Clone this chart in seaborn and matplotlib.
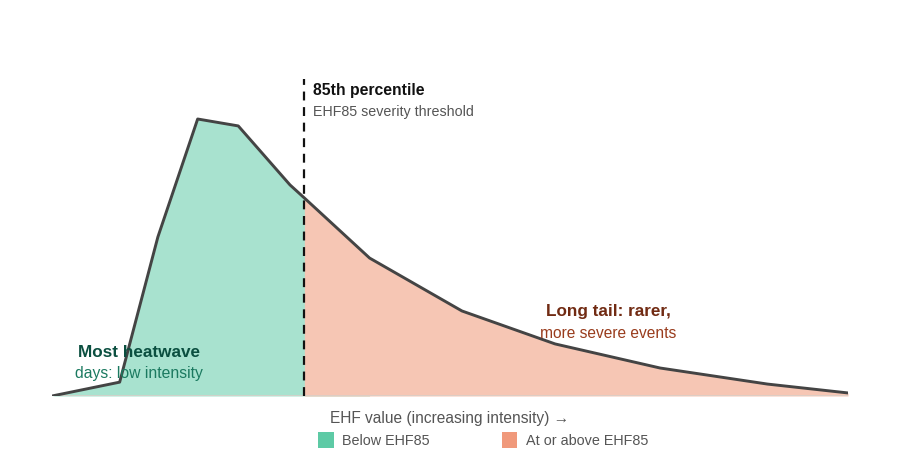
import matplotlib
matplotlib.use("Agg")
import matplotlib.pyplot as plt
import seaborn as sns
import numpy as np
import pandas as pd
from matplotlib.patches import Patch

sns.set_theme(style="white")
plt.rcParams['font.family'] = ['Liberation Sans', 'DejaVu Sans']

# Data (relative frequency vs EHF value, arbitrary units)
ehf_values = [0, 8.5, 13.3, 18.3, 23.4, 29.9, 31.7, 39.9, 51.5, 63.2, 76.4, 89.9, 100]
frequency = [0.0, 0.05, 0.574, 1.0, 0.975, 0.762, 0.715, 0.498, 0.307, 0.188, 0.101, 0.043, 0.011]
threshold = 31.7
legend_labels = ["Below EHF85", "At or above EHF85"]

df = pd.DataFrame({"ehf": ehf_values, "freq": frequency})

fig = plt.figure(figsize=(9, 4.76), dpi=100)
ax = fig.add_axes([52/900, 1-396/476, 796/900, 317/476])

green_fill = "#a8e2cf"
salmon_fill = "#f6c6b4"
green_leg = "#5dcaa5"
salmon_leg = "#f0997b"

x = np.array(ehf_values)
y = np.array(frequency)
ax.fill_between(x, 0, y, where=x <= threshold, color=green_fill, linewidth=0, interpolate=True)
ax.fill_between(x, 0, y, where=x >= threshold, color=salmon_fill, linewidth=0, interpolate=True)

sns.lineplot(data=df, x="ehf", y="freq", ax=ax, color="#444444", linewidth=2.1, zorder=3)

ax.axvline(threshold, color="#111111", linestyle=(0, (4, 3)), linewidth=1.6, zorder=4)
ax.axhline(0, color="#d8cfc8", linewidth=1.2, zorder=2)

ax.set_xlim(0, 100)
ax.set_ylim(0, 317/277)
ax.set_xticks([])
ax.set_yticks([])
ax.set_xlabel("")
ax.set_ylabel("")
for s in ax.spines.values():
    s.set_visible(False)

# Annotations
ax.text(threshold + 1.1, 1.104, "85th percentile", fontsize=11.3, fontweight="bold",
        color="#111111", ha="left", va="center")
ax.text(threshold + 1.1, 1.025, "EHF85 severity threshold", fontsize=10.3,
        color="#555555", ha="left", va="center")

ax.text(10.95, 0.158, "Most heatwave", fontsize=12.3, fontweight="bold",
        color="#0b4f40", ha="center", va="center", zorder=5)
ax.text(10.95, 0.083, "days: low intensity", fontsize=11.3,
        color="#1b7a60", ha="center", va="center", zorder=5)

ax.text(69.9, 0.304, "Long tail: rarer,", fontsize=12.3, fontweight="bold",
        color="#712b13", ha="center", va="center", zorder=5)
ax.text(69.9, 0.224, "more severe events", fontsize=11.2,
        color="#993c1d", ha="center", va="center", zorder=5)

fig.text(0.5, 1-418/476, "EHF value (increasing intensity) \u2192", fontsize=11.2,
         color="#555555", ha="center", va="center")

handles = [Patch(facecolor=green_leg, edgecolor="none"),
           Patch(facecolor=salmon_leg, edgecolor="none")]
leg = fig.legend(handles, legend_labels, loc="center", bbox_to_anchor=(0.537, 1-440/476),
                 ncol=2, frameon=False, fontsize=10.4, handlelength=1.05, handleheight=1.35,
                 handletextpad=0.6, columnspacing=5.0)
for t in leg.get_texts():
    t.set_color("#555555")

fig.savefig("out.png", dpi=100)
